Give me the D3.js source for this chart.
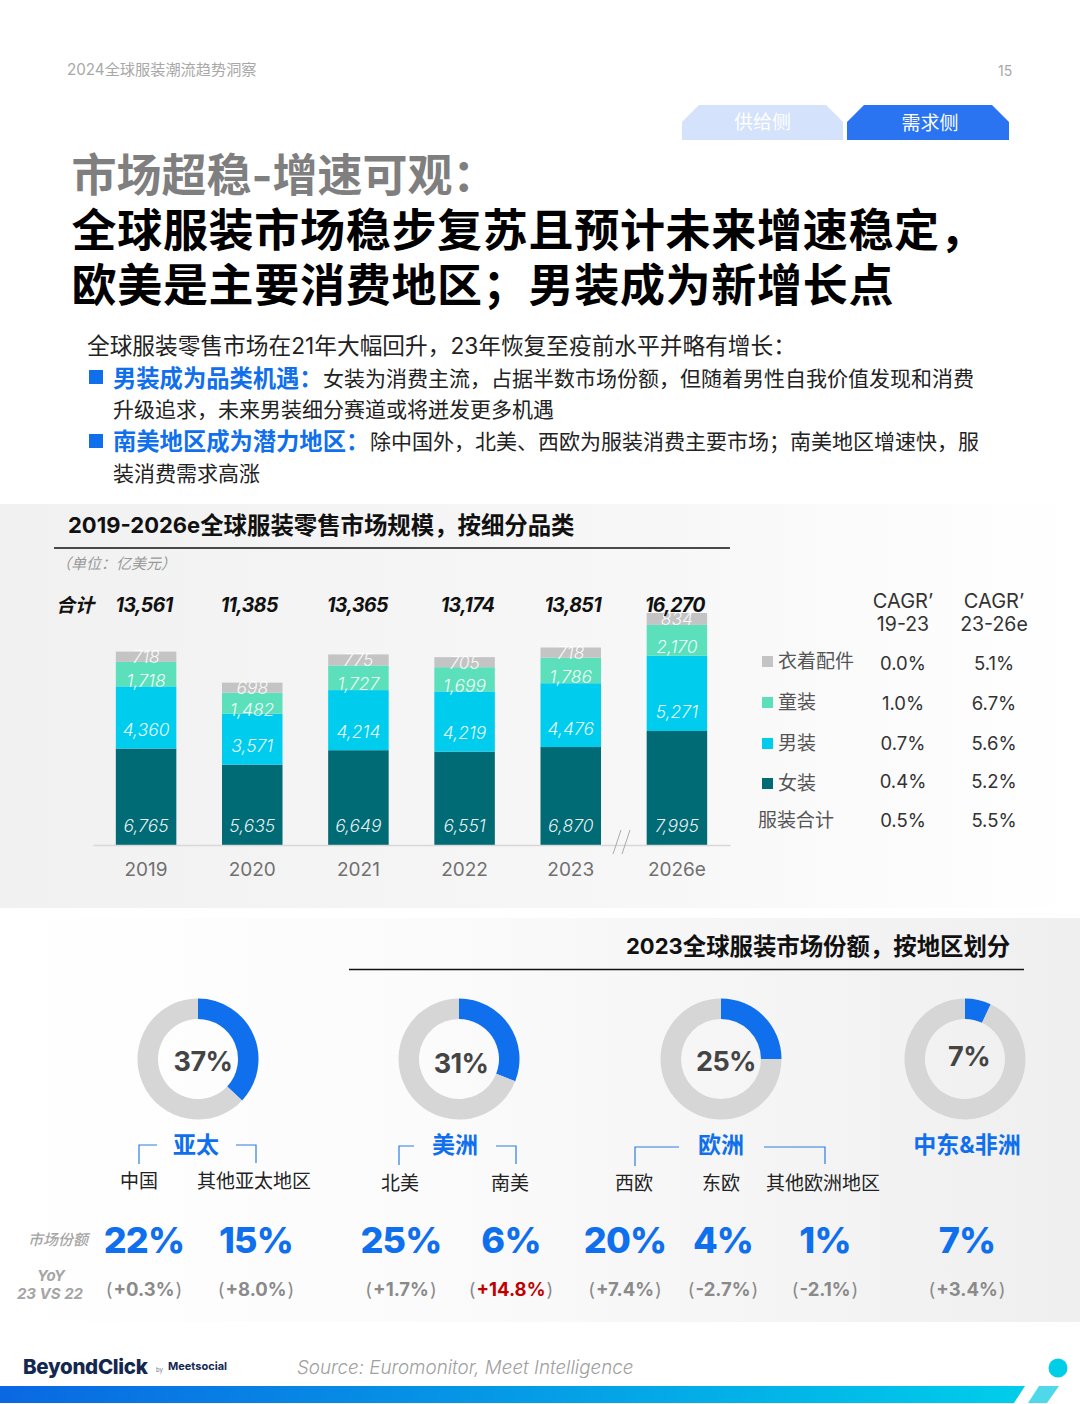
<!DOCTYPE html>
<html>
<head>
<meta charset="utf-8">
<script src="https://cdn.jsdelivr.net/npm/d3@7"></script>
<style>
html,body{margin:0;padding:0;background:#fff}
svg{display:block}
text{font-family:"Inter","Noto Sans CJK SC",sans-serif}
</style>
</head>
<body>
<div id="page"></div>
<script>
// chart values
var years = ["2019","2020","2021","2022","2023","2026e"];
var totals = ["13,561","11,385","13,365","13,174","13,851","16,270"];
var womens = [6765,5635,6649,6551,6870,7995];
var mens = [4360,3571,4214,4219,4476,5271];
var kids = [1718,1482,1727,1699,1786,2170];
var accessories = [718,698,775,705,718,834];

var categories = ["衣着配件","童装","男装","女装"];
var catColors = ["#c4c4c4","#5ce0bb","#00ccee","#006a75"];
var cagr1923 = ["0.0%","1.0%","0.7%","0.4%","0.5%"];
var cagr2326 = ["5.1%","6.7%","5.6%","5.2%","5.5%"];

var regions = ["亚太","美洲","欧洲","中东&非洲"];
var regionShare = [37,31,25,7];
var subRegions = ["中国","其他亚太地区","北美","南美","西欧","东欧","其他欧洲地区",""];
var subShare = [22,15,25,6,20,4,1,7];
var subYoy = ["+0.3%","+8.0%","+1.7%","+14.8%","+7.4%","-2.7%","-2.1%","+3.4%"];

var W = 1080, H = 1404;
var BLUE = "#0f6fec";
var svg = d3.select("#page").append("svg").attr("width", W).attr("height", H);
var defs = svg.append("defs");

function gradient(id, stops) {
	var g = defs.append("linearGradient").attr("id", id);
	stops.forEach(function(s) {
		g.append("stop").attr("offset", s[0]).attr("stop-color", s[1]);
	});
}
gradient("panelTop", [[0,"#f1f1f1"],[0.6,"#f7f7f7"],[1,"#ffffff"]]);
gradient("panelBottom", [[0,"#ffffff"],[0.4,"#fbfbfb"],[1,"#efefef"]]);
gradient("footBar", [[0,"#0a68e2"],[1,"#00cdea"]]);

function label(x, y, str, size, color, opts) {
	opts = opts || {};
	return svg.append("text")
		.attr("x", x)
		.attr("y", y)
		.attr("dominant-baseline", "central")
		.attr("text-anchor", opts.anchor || "start")
		.attr("font-size", size)
		.attr("font-weight", opts.weight || 400)
		.attr("font-style", opts.style || "normal")
		.attr("letter-spacing", opts.spacing || 0)
		.attr("fill", color)
		.text(str);
}

// panels
svg.append("rect").attr("x",0).attr("y",504).attr("width",W).attr("height",404).attr("fill","url(#panelTop)");
svg.append("rect").attr("x",0).attr("y",918).attr("width",W).attr("height",404).attr("fill","url(#panelBottom)");

// page header
label(67, 69.5, "2024全球服装潮流趋势洞察", 15.2, "#a8a8a8");
label(998, 70.5, "15", 14, "#a8a8a8");

// tabs
function tab(x, w, fill, str, dx, dy) {
	var y = 105, h = 35, c = 17;
	svg.append("path")
		.attr("d", d3.line()([[x,y+h],[x,y+c],[x+c,y],[x+w-c,y],[x+w,y+c],[x+w,y+h]]) + "Z")
		.attr("fill", fill);
	label(x+w/2+dx, y+17+dy, str, 19, "#fff", {anchor:"middle"});
}
tab(682, 161, "#d4e2fb", "供给侧", 0, 0);
tab(847, 162, "#2a74f2", "需求侧", 2, 1);

// headline
label(71.5, 175.5, "市场超稳-增速可观：", 45, "#7f7f7f", {weight:700});
label(71.5, 230.5, "全球服装市场稳步复苏且预计未来增速稳定，", 45, "#000", {weight:700, spacing:0.7});
label(71.5, 285.5, "欧美是主要消费地区；男装成为新增长点", 45, "#000", {weight:700, spacing:0.7});

// intro text
label(87, 345, "全球服装零售市场在21年大幅回升，23年恢复至疫前水平并略有增长：", 22.7, "#222");
svg.append("rect").attr("x",89).attr("y",370).attr("width",14).attr("height",14).attr("fill",BLUE);
label(113, 378, "男装成为品类机遇：", 23.3, BLUE, {weight:700});
label(323, 378, "女装为消费主流，占据半数市场份额，但随着男性自我价值发现和消费", 21, "#222");
label(113, 409, "升级追求，未来男装细分赛道或将迸发更多机遇", 21, "#222");
svg.append("rect").attr("x",89).attr("y",434).attr("width",14).attr("height",14).attr("fill",BLUE);
label(113, 441, "南美地区成为潜力地区：", 23.3, BLUE, {weight:700});
label(370, 441, "除中国外，北美、西欧为服装消费主要市场；南美地区增速快，服", 21, "#222");
label(113, 473, "装消费需求高涨", 21, "#222");

// section heading: latin part stays smaller than the CJK part
function heading(x, y, latin, cjk) {
	var t = label(x, y, null, 22, "#111", {weight:700});
	t.append("tspan").text(latin);
	t.append("tspan").attr("font-size", 23.4).text(cjk);
}

// stacked bar chart
heading(68, 525, "2019-2026e", "全球服装零售市场规模，按细分品类");
svg.append("line").attr("x1",54).attr("x2",730).attr("y1",548).attr("y2",548).attr("stroke","#111").attr("stroke-width",1.5);
label(56, 563, "（单位：亿美元）", 15, "#999", {style:"italic"});

var x = d3.scaleBand().domain(years).range([93,730]).paddingInner(0.43).paddingOuter(0.215);
var y = d3.scaleLinear().domain([0,16270]).range([845,613]);

var rows = years.map(function(yr, i) {
	return {year: yr, women: womens[i], men: mens[i], kid: kids[i], acc: accessories[i]};
});
var keys = ["women","men","kid","acc"];
var keyColor = d3.scaleOrdinal().domain(keys).range(catColors.slice().reverse());
var series = d3.stack().keys(keys)(rows);

var layers = svg.append("g").selectAll("g").data(series).join("g")
	.attr("fill", function(d) { return keyColor(d.key); });
layers.selectAll("rect").data(function(d) { return d; }).join("rect")
	.attr("x", function(d) { return x(d.data.year); })
	.attr("width", x.bandwidth())
	.attr("y", function(d) { return y(d[1]); })
	.attr("height", function(d) { return y(d[0]) - y(d[1]); });

// labels hang low in the segments, like the original slide
layers.selectAll("text").data(function(d) {
	return d.map(function(p) { return {p: p, key: d.key}; });
}).join("text")
	.attr("x", function(d) { return x(d.p.data.year) + x.bandwidth()/2; })
	.attr("y", function(d) {
		if (d.key === "women") return y(0) - 20;
		if (d.key === "men") return y(d.p[0]) - 19;
		if (d.key === "kid") return (y(d.p[0]) + y(d.p[1]))/2 + 6;
		return (y(d.p[0]) + y(d.p[1]))/2;
	})
	.attr("text-anchor", "middle")
	.attr("dominant-baseline", "central")
	.attr("font-size", 17.5)
	.attr("font-style", "italic")
	.attr("font-weight", 300)
	.attr("fill", "#fff")
	.attr("fill-opacity", 0.92)
	.text(function(d) { return d3.format(",")(d.p[1] - d.p[0]); });

// axis
var axis = svg.append("g").attr("transform", "translate(0,845)").call(d3.axisBottom(x).tickSize(0).tickPadding(18));
axis.select(".domain").attr("stroke","#d8d8d8").attr("stroke-width",1.5);
axis.selectAll("text").attr("font-size",19).attr("fill","#707070").attr("font-family",'"Inter","Noto Sans CJK SC",sans-serif');

// axis break
[[613,621],[622,630]].forEach(function(b) {
	svg.append("line").attr("x1",b[0]).attr("x2",b[1]).attr("y1",854).attr("y2",830).attr("stroke","#aaa").attr("stroke-width",1);
});

// totals
label(56, 605, "合计", 19, "#111", {weight:700, style:"italic"});
var totalNudge = [-2,-3,-1,3,2,-2];
totals.forEach(function(t, i) {
	label(x(years[i]) + x.bandwidth()/2 + totalNudge[i], 605, t, 19.5, "#111", {anchor:"middle", weight:700, style:"italic", spacing:-0.6});
});

// CAGR table
var colA = 903, colB = 994;
var valueY = [663,703,743,781,820];
var nameY = [661,702,743,783];
label(colA, 601, "CAGR’", 20, "#333", {anchor:"middle"});
label(colA, 624, "19-23", 19.5, "#333", {anchor:"middle"});
label(colB, 601, "CAGR’", 20, "#333", {anchor:"middle"});
label(colB, 624, "23-26e", 19.5, "#333", {anchor:"middle"});
categories.forEach(function(c, i) {
	svg.append("rect").attr("x",762).attr("y",nameY[i]-5).attr("width",11).attr("height",11).attr("fill",catColors[i]);
	label(778, nameY[i], c, 19, "#555");
});
label(758, 820, "服装合计", 19, "#555");
cagr1923.forEach(function(v, i) { label(colA, valueY[i], v, 18.5, "#333", {anchor:"middle"}); });
cagr2326.forEach(function(v, i) { label(colB, valueY[i], v, 18.5, "#333", {anchor:"middle"}); });

// region section
heading(626, 946, "2023", "全球服装市场份额，按地区划分");
svg.append("line").attr("x1",349).attr("x2",1024).attr("y1",969.5).attr("y2",969.5).attr("stroke","#111").attr("stroke-width",1.5);

var donutX = [198,459,721,965];
var donutText = [[203,1061],[461,1063],[726,1061],[969,1056]];
var pie = d3.pie().sort(null);
var arc = d3.arc().innerRadius(40).outerRadius(60.5);
regionShare.forEach(function(v, i) {
	var g = svg.append("g").attr("transform", "translate(" + donutX[i] + ",1059)");
	g.selectAll("path").data(pie([v, 100 - v])).join("path")
		.attr("d", arc)
		.attr("fill", function(d, j) { return j === 0 ? BLUE : "#d6d6d6"; });
	label(donutText[i][0], donutText[i][1], v + "%", 27, "#444", {anchor:"middle", weight:700, spacing:-0.6});
});

var regionX = [196,455,721,967];
regions.forEach(function(r, i) {
	label(regionX[i], 1145, r, 23, BLUE, {anchor:"middle", weight:700});
});

// brackets
var brackets = [
	[[139,1164],[139,1145],[157,1145]], [[236,1145],[256,1145],[256,1163]],
	[[399,1165],[399,1146],[414,1146]], [[496,1146],[516,1146],[516,1164]],
	[[635,1166],[635,1147],[679,1147]], [[764,1147],[825,1147],[825,1164]]
];
brackets.forEach(function(b) {
	svg.append("path").attr("d", d3.line()(b)).attr("fill","none").attr("stroke","#2a7de1").attr("stroke-width",1.2);
});

var subLabelX = [139,254,400,510,634,721,823,967];
var subLabelY = [1181,1181,1183,1183,1183,1183,1183,1183];
var shareX = [144,256,401,511,625,723,825,967];
subRegions.forEach(function(s, i) {
	label(subLabelX[i], subLabelY[i], s, 19, "#222", {anchor:"middle"});
	label(shareX[i], 1240, subShare[i] + "%", 36, BLUE, {anchor:"middle", weight:800, spacing:-0.8});
	var t = label(shareX[i], 1289, null, 18.5, "#8a8a8a", {anchor:"middle", weight:700});
	t.append("tspan").attr("font-weight",400).text("(");
	t.append("tspan").attr("dx",1).attr("fill", subYoy[i] === "+14.8%" ? "#c00000" : "#8a8a8a").text(subYoy[i]);
	t.append("tspan").attr("font-weight",400).attr("dx",1).text(")");
});

label(58, 1239, "市场份额", 15, "#a5a5a5", {anchor:"middle", style:"italic", weight:500});
label(51, 1275, "YoY", 15, "#a5a5a5", {anchor:"middle", style:"italic", weight:700});
label(50, 1293, "23 VS 22", 15, "#a5a5a5", {anchor:"middle", style:"italic", weight:700});

// footer
label(23, 1366, "BeyondClick", 20.5, "#14284f", {weight:800, spacing:-0.3});
label(156, 1369, "by", 6, "#777");
label(168, 1366, "Meetsocial", 11, "#14284f", {weight:700});
label(297, 1367, "Source: Euromonitor, Meet Intelligence", 18.8, "#a0a0a0", {style:"italic", weight:300});

svg.append("path").attr("d", d3.line()([[0,1386],[1025,1386],[1014,1403],[0,1403]]) + "Z").attr("fill","url(#footBar)");
svg.append("path").attr("d", d3.line()([[1039,1386],[1059,1386],[1047,1403],[1028,1403]]) + "Z").attr("fill","#4fd8ea");
svg.append("circle").attr("cx",1058).attr("cy",1368).attr("r",9.5).attr("fill","#00cde6");
</script>
</body>
</html>
